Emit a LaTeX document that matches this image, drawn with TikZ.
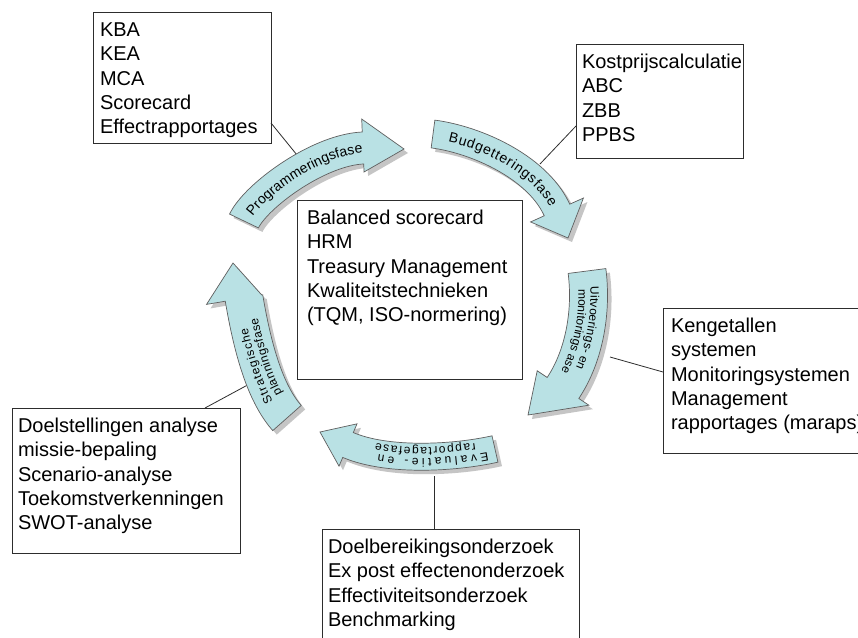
\documentclass[tikz,border=0pt]{standalone}
\usepackage{fontspec}
\setmainfont{Liberation Sans}
\usetikzlibrary{decorations.text}

\definecolor{phase}{RGB}{185,225,228}
\definecolor{rim}{RGB}{95,95,95}
\definecolor{ink}{RGB}{45,45,45}

\newcommand\boxfont{\fontsize{20}{24.3}\selectfont}
% width, height (px) and the lines of a text box
\newcommand\boxtext[3]{\parbox[t][#2pt][t]{#1pt}{\raggedright\rule{0pt}{24.5pt}#3}}

% centre line of a phase arrow: cubic Bezier, given in px
\newcommand\setcurve[8]{%
  \pgfmathsetmacro\Ax{#1/10}\pgfmathsetmacro\Ay{#2/10}%
  \pgfmathsetmacro\Bx{#3/10}\pgfmathsetmacro\By{#4/10}%
  \pgfmathsetmacro\Cx{#5/10}\pgfmathsetmacro\Cy{#6/10}%
  \pgfmathsetmacro\Dx{#7/10}\pgfmathsetmacro\Dy{#8/10}}

\newcommand\arrowpath[1]{%
  \path[#1] plot[variable=\tv,domain=0:1,samples=41] ({10*ofx(\tv,\hw)},{10*ofy(\tv,\hw)})
    -- (\Ox,\Oy) -- (\Tx,\Ty) -- (\Ix,\Iy)
    -- plot[variable=\tv,domain=1:0,samples=41] ({10*ofx(\tv,-\hw)},{10*ofy(\tv,-\hw)}) -- cycle;}

% half width, outer barb, inner barb, tip x, tip y (px)
\newcommand\phasearrow[5]{%
  \pgfmathsetmacro\hw{#1/10}%
  \pgfmathsetmacro\Ox{10*ofx(1,#2/10)}\pgfmathsetmacro\Oy{10*ofy(1,#2/10)}%
  \pgfmathsetmacro\Ix{10*ofx(1,-#3/10)}\pgfmathsetmacro\Iy{10*ofy(1,-#3/10)}%
  \def\Tx{#4}\def\Ty{#5}%
  \arrowpath{phaseshadow,shift={(4,4)}}%
  \arrowpath{phasefill}}

% baseline offset (px, outward positive), font size, start and end indents, text
\newcommand\phasetext[5]{%
  \path[decorate,decoration={text along path,
      text align={left indent=#3pt,right indent=#4pt,fit to path},
      text={|\fontsize{#2}{#2}\selectfont|#5}}]
    plot[variable=\tv,domain=0:1,samples=41] ({10*ofx(\tv,#1/10)},{10*ofy(\tv,#1/10)});}

\tikzset{
  infobox/.style={draw=ink, line width=0.9pt, fill=white, anchor=north west,
    outer sep=0pt, inner xsep=#1, inner ysep=0pt, font=\boxfont},
  infobox/.default=6pt,
  link/.style={draw=ink, line width=0.8pt},
  phasefill/.style={fill=phase, draw=rim, line width=0.7pt},
  phaseshadow/.style={fill=black!45, opacity=0.5},
}

\begin{document}
\begin{tikzpicture}[x=1pt,y=-1pt,
  declare function={
    bzx(\tpar)=(1-\tpar)*(1-\tpar)*(1-\tpar)*\Ax+3*(1-\tpar)*(1-\tpar)*\tpar*\Bx+3*(1-\tpar)*\tpar*\tpar*\Cx+\tpar*\tpar*\tpar*\Dx;
    bzy(\tpar)=(1-\tpar)*(1-\tpar)*(1-\tpar)*\Ay+3*(1-\tpar)*(1-\tpar)*\tpar*\By+3*(1-\tpar)*\tpar*\tpar*\Cy+\tpar*\tpar*\tpar*\Dy;
    dbx(\tpar)=3*(1-\tpar)*(1-\tpar)*(\Bx-\Ax)+6*(1-\tpar)*\tpar*(\Cx-\Bx)+3*\tpar*\tpar*(\Dx-\Cx);
    dby(\tpar)=3*(1-\tpar)*(1-\tpar)*(\By-\Ay)+6*(1-\tpar)*\tpar*(\Cy-\By)+3*\tpar*\tpar*(\Dy-\Cy);
    dbn(\tpar)=sqrt(dbx(\tpar)*dbx(\tpar)+dby(\tpar)*dby(\tpar));
    ofx(\tpar,\dpar)=bzx(\tpar)+dby(\tpar)/dbn(\tpar)*\dpar;
    ofy(\tpar,\dpar)=bzy(\tpar)-dbx(\tpar)/dbn(\tpar)*\dpar;
  }]
\useasboundingbox (0,0) rectangle (858,637);
\fill[white] (0,0) rectangle (858,637);
\clip (0,0) rectangle (858,637);

% text boxes
\node[infobox=7pt] (tl) at (93,12)
  {\boxtext{164}{131}{KBA\\KEA\\MCA\\Scorecard\\Effectrapportages}};
\node[infobox=6pt] (tr) at (576,44)
  {\boxtext{155}{114}{Kostprijscalculatie\\ABC\\ZBB\\PPBS}};
\node[infobox=10pt] (mid) at (297,200)
  {\boxtext{205}{179}{Balanced scorecard\\HRM\\Treasury Management\\Kwaliteitstechnieken\\(TQM, ISO-normering)}};
\node[infobox=8pt] (rt) at (663,308)
  {\boxtext{230}{145}{Kengetallen\\systemen\\Monitoringsystemen\\Management\\rapportages (maraps)}};
\node[infobox=6pt] (lf) at (12,408)
  {\boxtext{216}{145}{Doelstellingen analyse\\missie-bepaling\\Scenario-analyse\\Toekomstverkenningen\\SWOT-analyse}};
\node[infobox=6pt] (bt) at (322,529)
  {\boxtext{245}{130}{Doelbereikingsonderzoek\\Ex post effectenonderzoek\\Effectiviteitsonderzoek\\Benchmarking}};

% leader lines from the boxes to the phases
\coordinate (j1) at (297,155);
\coordinate (j2) at (540,164);
\coordinate (j3) at (610,357);
\coordinate (j4) at (434,476);
\coordinate (j5) at (255,381);
\draw[link] ([yshift=20pt]tl.south east) -- (j1);
\draw[link] ([yshift=32pt]tr.south west) -- (j2);
\draw[link] ([yshift=-64pt]rt.north west) -- (j3);
\draw[link] ([xshift=112pt]bt.north west) -- (j4);
\draw[link] ([xshift=-35pt]lf.north east) -- (j5);

% Programmeringsfase
\setcurve{244}{221}{256}{196}{318}{150}{363}{148}
\phasearrow{16}{29}{24}{404}{149}
\phasetext{-5}{14}{8}{4}{Programmeringsfase}

% Budgetteringsfase
\setcurve{433}{134}{478}{140}{538}{168}{557}{210}
\phasearrow{14}{29}{29}{568}{238}
\phasetext{-5}{14}{16}{5}{Budgetteringsfase}

% Uitvoerings- en monitoringsfase
\setcurve{587}{271}{592}{310}{585}{355}{563}{388}
\phasearrow{19}{31}{31}{528}{415}
\phasetext{2}{12}{16}{24}{Uitvoerings- en}
\phasetext{-10}{12}{17}{14}{monitorings ase}

% Evaluatie- en rapportagefase
\setcurve{495}{449}{455}{458}{388}{462}{348}{445}
\phasearrow{13.5}{23}{23}{320}{432}
\phasetext{1.5}{12}{8}{32}{Evaluatie- en}
\phasetext{-9.5}{12}{18}{25}{rapportagefase}

% Strategische planningsfase
\setcurve{287}{418}{264}{392}{252}{345}{244}{298}
\phasearrow{19}{38}{18}{233}{263}
\phasetext{2}{12}{22}{30}{Strategische}
\phasetext{-10}{12}{22}{22}{planningsfase}
\end{tikzpicture}
\end{document}
